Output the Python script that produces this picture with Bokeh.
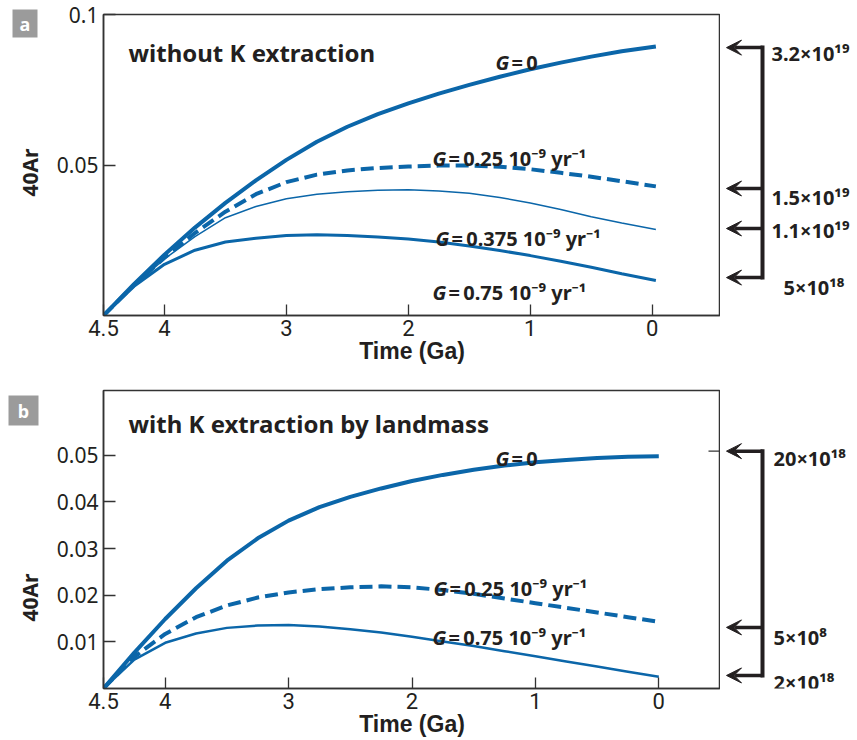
import math
from bokeh.plotting import figure
from bokeh.models import Range1d, FixedTicker, Label, Arrow, VeeHead
from bokeh.core.properties import value
from bokeh.layouts import column, row
from bokeh.embed import file_html
from bokeh.resources import INLINE

# ---------------- data ----------------
time_a = [4.5, 4.25, 4.0, 3.75, 3.5, 3.25, 3.0, 2.75, 2.5, 2.25, 2.0,
          1.75, 1.5, 1.25, 1.0, 0.75, 0.5, 0.25, -0.03]
ar_a_g0 = [0.0, 0.0104, 0.0202, 0.0292, 0.0374, 0.0449, 0.0517, 0.0577, 0.0627, 0.0669, 0.0705,
           0.0737, 0.0766, 0.0793, 0.0818, 0.0840, 0.0860, 0.0878, 0.0894]
ar_a_g025 = [0.0, 0.0101, 0.0192, 0.0274, 0.0345, 0.0403, 0.0443, 0.0468, 0.0482, 0.0490, 0.0495,
             0.0498, 0.0498, 0.0494, 0.0486, 0.0474, 0.0461, 0.0446, 0.0429]
ar_a_g0375 = [0.0, 0.0100, 0.0188, 0.0262, 0.0325, 0.0362, 0.0388, 0.0403, 0.0411, 0.0416, 0.0418,
              0.0414, 0.0406, 0.0392, 0.0374, 0.0352, 0.0328, 0.0307, 0.0286]
ar_a_g075 = [0.0, 0.0097, 0.0170, 0.0217, 0.0244, 0.0257, 0.0266, 0.0268, 0.0266, 0.0261, 0.0254,
             0.0244, 0.0231, 0.0216, 0.0199, 0.0180, 0.0160, 0.0139, 0.0116]

time_b = [4.5, 4.25, 4.0, 3.75, 3.5, 3.25, 3.0, 2.75, 2.5, 2.25, 2.0,
          1.75, 1.5, 1.25, 1.0, 0.75, 0.5, 0.25, 0.0]
ar_b_g0 = [0.0, 0.0077, 0.0149, 0.0215, 0.0274, 0.0322, 0.0360, 0.0389, 0.0411, 0.0429, 0.0445,
           0.0458, 0.0469, 0.0478, 0.0485, 0.0490, 0.0494, 0.0497, 0.0498]
ar_b_g025 = [0.0, 0.0068, 0.0117, 0.0153, 0.0178, 0.0195, 0.0206, 0.0213, 0.0217, 0.0219, 0.0217,
             0.0211, 0.0203, 0.0193, 0.0183, 0.0173, 0.0163, 0.0153, 0.0143]
ar_b_g075 = [0.0, 0.0062, 0.0098, 0.0118, 0.0130, 0.0135, 0.0136, 0.0133, 0.0127, 0.0120, 0.0111,
             0.0101, 0.0091, 0.0080, 0.0069, 0.0058, 0.0047, 0.0036, 0.0025]

x_ticks = [4.5, 4, 3, 2, 1, 0]
x_tick_labels = ["4.5", "4", "3", "2", "1", "0"]
a_y_ticks = [0.05, 0.1]
a_y_tick_labels = ["0.05", "0.1"]
b_y_ticks = [0.01, 0.02, 0.03, 0.04, 0.05]
b_y_tick_labels = ["0.01", "0.02", "0.03", "0.04", "0.05"]

a_series_names = ["0", "0.25 10\u207b\u2079 yr\u207b\u00b9", "0.375 10\u207b\u2079 yr\u207b\u00b9",
                  "0.75 10\u207b\u2079 yr\u207b\u00b9"]
b_series_names = ["0", "0.25 10\u207b\u2079 yr\u207b\u00b9", "0.75 10\u207b\u2079  yr\u207b\u00b9"]

a_arrow_levels = [0.0890, 0.0422, 0.0289, 0.0126]
a_arrow_labels = ["3.2\u00d710\u00b9\u2079", "1.5\u00d710\u00b9\u2079", "1.1\u00d710\u00b9\u2079", "5\u00d710\u00b9\u2078"]
b_arrow_levels = [0.0509, 0.0131, 0.0028]
b_arrow_labels = ["20\u00d710\u00b9\u2078", "5\u00d710\u2078", "2\u00d710\u00b9\u2078"]

# ---------------- styling / geometry (page pixels) ----------------
BLUE = "#0b66a9"
INK = "#231f20"
FRAME = "#333333"
LEFT_W, MAIN_W, RIGHT_W = 50, 670, 137
H = 370
A_TOP, B_TOP = 0, 370
A_FR = dict(left=103, right=720, top=14, bottom=315)
B_FR = dict(left=103, right=720, top=390, bottom=688)
A_XR, A_YR = (4.5, -0.56), (0.0, 0.1)
B_XR, B_YR = (4.5, -0.5), (0.0, 0.0639)


def make_main(fig_top, fr, xr, yr, yticks, ylabels):
    p = figure(width=MAIN_W, height=H, x_range=Range1d(*xr), y_range=Range1d(*yr),
               output_backend="svg", toolbar_location=None, tools="",
               min_border_left=fr["left"] - LEFT_W, min_border_right=0,
               min_border_top=fr["top"] - fig_top, min_border_bottom=fig_top + H - fr["bottom"])
    p.xgrid.visible = False
    p.ygrid.visible = False
    p.outline_line_color = FRAME
    p.outline_line_width = 1.5
    p.border_fill_color = "white"

    xa = p.xaxis[0]
    xa.ticker = FixedTicker(ticks=x_ticks)
    xa.major_label_overrides = dict(zip(x_ticks, x_tick_labels))
    xa.major_tick_in = 11
    xa.major_tick_out = 0
    xa.minor_tick_line_color = None
    xa.major_tick_line_color = FRAME
    xa.major_tick_line_width = 1.3
    xa.axis_line_color = FRAME
    xa.axis_line_width = 1.5
    xa.major_label_text_font = "Roboto"
    xa.major_label_text_font_size = "22px"
    xa.major_label_text_color = INK
    xa.major_label_standoff = 4
    xa.axis_label = "Time (Ga)"
    xa.axis_label_text_font = "Liberation Sans"
    xa.axis_label_text_font_size = "23px"
    xa.axis_label_text_font_style = "bold"
    xa.axis_label_text_color = INK
    xa.axis_label_standoff = -1

    ya = p.yaxis[0]
    ya.ticker = FixedTicker(ticks=yticks)
    ya.major_label_overrides = dict(zip(yticks, ylabels))
    ya.major_tick_in = 12
    ya.major_tick_out = 0
    ya.minor_tick_line_color = None
    ya.major_tick_line_color = FRAME
    ya.major_tick_line_width = 1.3
    ya.axis_line_color = FRAME
    ya.axis_line_width = 1.5
    ya.major_label_text_font = "Noto Sans"
    ya.major_label_text_font_size = "21px"
    ya.major_label_text_color = INK
    ya.major_label_standoff = 5
    return p


def make_strip(width, x_range, y_range, top=0, bottom=0):
    p = figure(width=width, height=H, x_range=x_range, y_range=y_range,
               output_backend="svg", toolbar_location=None, tools="",
               x_axis_type=None, y_axis_type=None,
               min_border_left=0, min_border_right=0, min_border_top=top, min_border_bottom=bottom)
    p.xgrid.visible = False
    p.ygrid.visible = False
    p.outline_line_color = None
    p.border_fill_color = "white"
    return p


def conv(fr, xr, yr):
    def fx(px):
        return xr[0] + (px - fr["left"]) / (fr["right"] - fr["left"]) * (xr[1] - xr[0])

    def fy(py):
        return yr[0] + (fr["bottom"] - py) / (fr["bottom"] - fr["top"]) * (yr[1] - yr[0])
    return fx, fy


def text(p, x, y, s, size, style="bold", font="Noto Sans", align="left",
         baseline="alphabetic", angle=0.0, color=INK, **kw):
    p.add_layout(Label(x=x, y=y, text=s, text_font=font, text_font_size=size,
                       text_font_style=style, text_align=align, text_baseline=baseline,
                       angle=angle, text_color=color, **kw))


def g_label(p, fx, fy, px, py, rest, size="20px"):
    text(p, fx(px), fy(py), "G", size, style="bold italic")
    text(p, fx(px + 16), fy(py), "=\u2009" + rest, size)


def build_right(main, fig_top, fr, yr, levels, labels, lab_x, lab_base):
    _, fy = conv(fr, (0, 1), yr)
    r = make_strip(RIGHT_W, Range1d(MAIN_W + LEFT_W, MAIN_W + LEFT_W + RIGHT_W), main.y_range,
                   top=fr["top"] - fig_top, bottom=fig_top + H - fr["bottom"])
    for lv in levels:
        r.add_layout(Arrow(end=VeeHead(size=15, fill_color=INK, line_color=INK, line_width=1),
                           x_start=762, y_start=lv, x_end=726, y_end=lv,
                           line_color=INK, line_width=3.5))
    r.add_layout(Arrow(end=None, x_start=762, y_start=max(levels), x_end=762, y_end=min(levels),
                       line_color=INK, line_width=4, line_cap="square"))
    for s, lx, lb in zip(labels, lab_x, lab_base):
        text(r, lx, fy(lb), s, "20px")
    return r


def build_left(fig_top, box, letter, ar_c):
    # strip in page-pixel coordinates (y grows downwards); its frame fills the strip
    l = make_strip(LEFT_W, Range1d(0, LEFT_W), Range1d(fig_top + H, fig_top))
    try:
        l.frame_align = False
    except AttributeError:
        pass
    l.quad(left=[box[0]], right=[box[1]], top=[box[2]], bottom=[box[3]],
           fill_color="#9b9b9b", line_color=None)
    l.text(x=[(box[0] + box[1]) / 2], y=[(box[2] + box[3]) / 2], text=[letter],
           text_font=value("Noto Sans"), text_font_size="18px", text_font_style="bold",
           text_color="white", text_align="center", text_baseline="middle")
    l.text(x=[ar_c[0]], y=[ar_c[1]], text=["40Ar"], angle=math.pi / 2,
           text_font=value("Noto Sans"), text_font_size="21px", text_font_style="bold",
           text_color=INK, text_align="center", text_baseline="middle")
    return l


# ---------------- panel a ----------------
pa = make_main(A_TOP, A_FR, A_XR, A_YR, a_y_ticks, a_y_tick_labels)
fxa, fya = conv(A_FR, A_XR, A_YR)
pa.line(time_a, ar_a_g0, line_color=BLUE, line_width=4)
pa.line(time_a, ar_a_g025, line_color=BLUE, line_width=4, line_dash="13 6")
pa.line(time_a, ar_a_g0375, line_color=BLUE, line_width=1.5)
pa.line(time_a, ar_a_g075, line_color=BLUE, line_width=3)
text(pa, fxa(128), fya(52), "without K extraction", "24px")
g_label(pa, fxa, fya, 495, 62, a_series_names[0])
g_label(pa, fxa, fya, 432, 158, a_series_names[1])
g_label(pa, fxa, fya, 435, 238, a_series_names[2])
g_label(pa, fxa, fya, 432, 292, a_series_names[3])
la = build_left(A_TOP, (12, 37, 9, 37), "a", (29, 172))
ra = build_right(pa, A_TOP, A_FR, A_YR, a_arrow_levels, a_arrow_labels,
                 [771, 771, 771, 783], [53, 197, 230, 287])

# ---------------- panel b ----------------
pb = make_main(B_TOP, B_FR, B_XR, B_YR, b_y_ticks, b_y_tick_labels)
fxb, fyb = conv(B_FR, B_XR, B_YR)
pb.line(time_b, ar_b_g0, line_color=BLUE, line_width=4)
pb.line(time_b, ar_b_g025, line_color=BLUE, line_width=4, line_dash="13 6")
pb.line(time_b, ar_b_g075, line_color=BLUE, line_width=2.5)
text(pb, fxb(128), fyb(423), "with K extraction by landmass", "24px")
g_label(pb, fxb, fyb, 495, 458, b_series_names[0])
g_label(pb, fxb, fyb, 433, 588, b_series_names[1])
g_label(pb, fxb, fyb, 432, 637, b_series_names[2])
pb.add_layout(Arrow(end=None, x_start=fxb(708), y_start=b_arrow_levels[0], x_end=fxb(720),
                    y_end=b_arrow_levels[0], line_color=FRAME, line_width=1.2))
lb = build_left(B_TOP, (8, 38, 395, 425), "b", (29, 597))
rb = build_right(pb, B_TOP, B_FR, B_YR, b_arrow_levels, b_arrow_labels,
                 [773, 773, 773], [458, 637, 682])

layout = column(row(la, pa, ra), row(lb, pb, rb))
open("out.html", "w").write(file_html(layout, INLINE))
